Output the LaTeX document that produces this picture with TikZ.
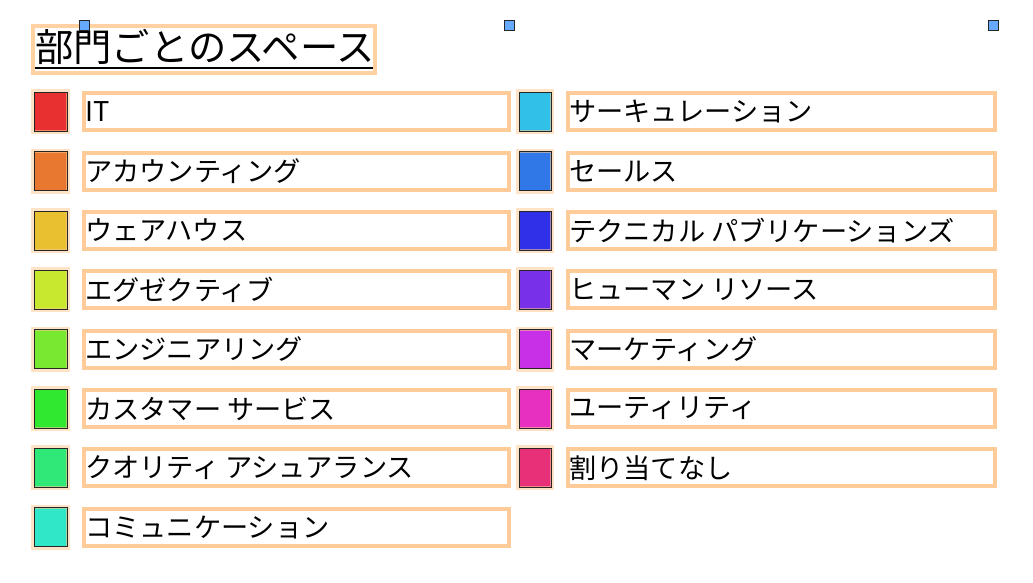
\documentclass[tikz,border=0pt]{standalone}
\usepackage{fontspec}
\setmainfont{Noto Sans CJK JP}
\begin{document}
\begin{tikzpicture}[x=1pt,y=-1pt,
  sw/.style={draw=black!85,line width=1pt},
  lbl/.style={anchor=west,inner sep=0pt,font=\fontsize{27.2}{30}\selectfont},
  handle/.style={draw=black!85,fill=hdl,line width=0.9pt,minimum size=10pt,inner sep=0pt}]
\definecolor{hlc}{RGB}{255,204,153}
\definecolor{hdl}{RGB}{102,170,255}
\useasboundingbox (0,0) rectangle (1033,583);
% title
\node[anchor=west,inner sep=0pt,font=\fontsize{38.3}{41}\selectfont] (title) at (35,47) {部門ごとのスペース};
\draw[black,line width=1.6pt] (35,68) -- (373,68);
\draw[draw=hlc,line width=4pt,opacity=0.9] (33,26) rectangle (375,73);
% handles
\node[handle] (h1) at (84,25) {};
\node[handle] (h2) at (509,25) {};
\node[handle] (h3) at (993,25) {};
% items
\foreach \col/\txt [count=\i from 0] in {
  {232,48,48}/IT,
  {232,120,48}/アカウンティング,
  {232,192,48}/ウェアハウス,
  {200,232,48}/エグゼクティブ,
  {120,232,48}/エンジニアリング,
  {48,232,48}/カスタマー サービス,
  {48,232,120}/クオリティ アシュアランス,
  {48,232,200}/コミュニケーション}{
  \pgfmathsetmacro{\yc}{112+59.3*\i}
  \definecolor{sc}{RGB}{\col}
  \fill[sc] (34,\yc-19.5) rectangle (67,\yc+19.5);
  \draw[draw=hlc,line width=4pt,opacity=0.55] (33,\yc-20.5) rectangle (68,\yc+20.5);
  \draw[sw] (34,\yc-19.5) rectangle (67,\yc+19.5);
  \draw[draw=hlc,line width=4pt] (84,\yc-18.5) rectangle (509,\yc+18.5);
  \node[lbl] (l\i) at (85,\yc) {\txt};
}
\foreach \col/\txt [count=\i from 0] in {
  {48,192,232}/サーキュレーション,
  {48,120,232}/セールス,
  {48,48,232}/テクニカル パブリケーションズ,
  {120,48,232}/ヒューマン リソース,
  {200,48,232}/マーケティング,
  {232,48,192}/ユーティリティ,
  {232,48,120}/割り当てなし}{
  \pgfmathsetmacro{\yc}{112+59.3*\i}
  \definecolor{sc}{RGB}{\col}
  \fill[sc] (519,\yc-19.5) rectangle (551,\yc+19.5);
  \draw[draw=hlc,line width=4pt,opacity=0.55] (518,\yc-20.5) rectangle (552,\yc+20.5);
  \draw[sw] (519,\yc-19.5) rectangle (551,\yc+19.5);
  \draw[draw=hlc,line width=4pt] (568,\yc-18.5) rectangle (995,\yc+18.5);
  \node[lbl] (r\i) at (569,\yc) {\txt};
}
\end{tikzpicture}
\end{document}
